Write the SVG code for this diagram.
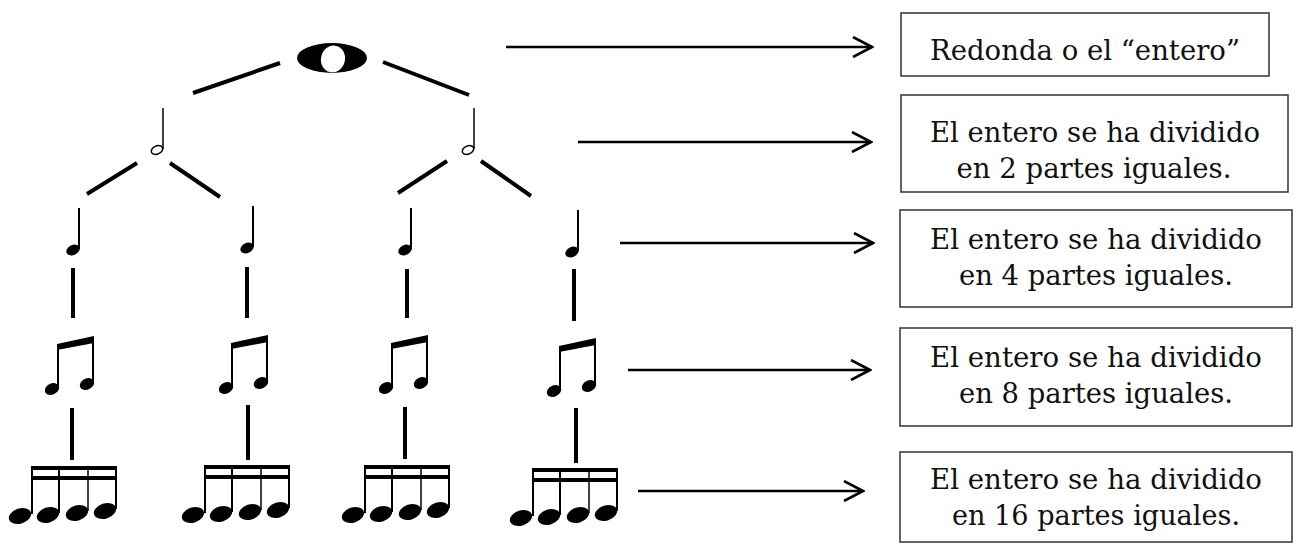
<svg xmlns="http://www.w3.org/2000/svg" width="1298" height="544" viewBox="0 0 1298 544">
<style>
.tree{stroke:#000;stroke-width:4;fill:none}
.arr{stroke:#000;stroke-width:2.6;fill:none}
.box{fill:#fff;stroke:#333;stroke-width:1.5}
.lbl{font-family:"DejaVu Serif","Liberation Serif",serif;font-size:27px;fill:#111;text-anchor:middle}
.stem{stroke:#000;stroke-width:2;fill:none}
.thin{stroke:#000;stroke-width:1.5;fill:none}
.head{fill:#000}
</style>
<defs>
<marker id="chev" viewBox="0 0 22 22" refX="20" refY="11" markerWidth="22" markerHeight="22" markerUnits="userSpaceOnUse" orient="auto">
<path d="M1,1 L20,11 L1,21" fill="none" stroke="#000" stroke-width="2.6"/>
</marker>
<g id="q"><ellipse cx="0" cy="0" rx="7" ry="5" transform="rotate(-25)" class="head"/><line x1="6" y1="-42" x2="6" y2="-1" class="stem"/></g>
<g id="h"><ellipse cx="0" cy="0" rx="6" ry="4" transform="rotate(-25)" fill="#fff" stroke="#000" stroke-width="1.5"/><line x1="6" y1="-42" x2="6" y2="-1" class="thin"/></g>
<g id="e">
<polygon points="-1,-46 36,-54 36,-47 -1,-40" fill="#000"/>
<line x1="0" y1="-44" x2="0" y2="-3" class="stem"/>
<line x1="35" y1="-52" x2="35" y2="-6" class="stem"/>
<ellipse cx="-6" cy="-1" rx="7.5" ry="5.5" transform="rotate(-25 -6 -1)" class="head"/>
<ellipse cx="29" cy="-6" rx="7.5" ry="5.5" transform="rotate(-25 29 -6)" class="head"/>
</g>
<g id="s">
<rect x="-1" y="0" width="86" height="4" fill="#000"/>
<rect x="-1" y="10" width="86" height="4" fill="#000"/>
<line x1="0" y1="0" x2="0" y2="48" class="stem"/>
<line x1="27" y1="0" x2="27" y2="47" class="stem"/>
<line x1="56" y1="0" x2="56" y2="45" class="thin"/>
<line x1="84" y1="0" x2="84" y2="43" class="stem"/>
<ellipse cx="-12" cy="50" rx="11.5" ry="7.5" transform="rotate(-18 -12 50)" class="head"/>
<ellipse cx="16" cy="49" rx="11.5" ry="7.5" transform="rotate(-18 16 49)" class="head"/>
<ellipse cx="45" cy="47" rx="11.5" ry="7.5" transform="rotate(-18 45 47)" class="head"/>
<ellipse cx="73" cy="45" rx="11.5" ry="7.5" transform="rotate(-18 73 45)" class="head"/>
</g>
</defs>
<rect width="1298" height="544" fill="#fff"/>

<g id="connectors">
<line class="tree" x1="193" y1="93" x2="280" y2="63"/>
<line class="tree" x1="383" y1="62" x2="469" y2="95"/>
<line class="tree" x1="87" y1="194" x2="137" y2="163"/>
<line class="tree" x1="170" y1="163" x2="220" y2="197"/>
<line class="tree" x1="398" y1="193" x2="447" y2="161"/>
<line class="tree" x1="481" y1="161" x2="531" y2="196"/>
<line class="tree" x1="73" y1="268" x2="73" y2="318"/>
<line class="tree" x1="247" y1="267" x2="247" y2="318"/>
<line class="tree" x1="407" y1="269" x2="407" y2="318"/>
<line class="tree" x1="574" y1="269" x2="574" y2="321"/>
<line class="tree" x1="72" y1="408" x2="72" y2="460"/>
<line class="tree" x1="248" y1="405" x2="248" y2="460"/>
<line class="tree" x1="405" y1="407" x2="405" y2="459"/>
<line class="tree" x1="576" y1="408" x2="576" y2="463"/>
<line class="arr" x1="506" y1="47" x2="872" y2="47" marker-end="url(#chev)"/>
<line class="arr" x1="578" y1="142" x2="871" y2="142" marker-end="url(#chev)"/>
<line class="arr" x1="620" y1="243" x2="873" y2="243" marker-end="url(#chev)"/>
<line class="arr" x1="628" y1="370" x2="870" y2="370" marker-end="url(#chev)"/>
<line class="arr" x1="638" y1="491" x2="863" y2="491" marker-end="url(#chev)"/>
</g>

<g id="whole-note">
<ellipse cx="332" cy="58" rx="35" ry="15" fill="#000"/>
<ellipse cx="333" cy="59" rx="12" ry="13.5" transform="rotate(15 333 59)" fill="#fff"/>
</g>

<g id="half-1"><use href="#h" x="157" y="150"/></g>
<g id="half-2"><use href="#h" x="468" y="150"/></g>

<g id="quarter-1"><use href="#q" x="73" y="250"/></g>
<g id="quarter-2"><use href="#q" x="247" y="248"/></g>
<g id="quarter-3"><use href="#q" x="405" y="250"/></g>
<g id="quarter-4"><use href="#q" x="572" y="252"/></g>

<g id="eighths-1"><use href="#e" x="58" y="390"/></g>
<g id="eighths-2"><use href="#e" x="232" y="389"/></g>
<g id="eighths-3"><use href="#e" x="392" y="389"/></g>
<g id="eighths-4"><use href="#e" x="560" y="392"/></g>

<g id="sixteenths-1"><use href="#s" x="32" y="466"/></g>
<g id="sixteenths-2"><use href="#s" x="205" y="465"/></g>
<g id="sixteenths-3"><use href="#s" x="365" y="465"/></g>
<g id="sixteenths-4"><use href="#s" x="533" y="468"/></g>

<g id="box-1">
<rect class="box" x="901" y="13" width="368" height="63"/>
<text class="lbl" x="1085" y="60" textLength="310" lengthAdjust="spacingAndGlyphs">Redonda o el “entero”</text>
</g>
<g id="box-2">
<rect class="box" x="901" y="95" width="387" height="97"/>
<text class="lbl" x="1095" y="142" textLength="330" lengthAdjust="spacingAndGlyphs">El entero se ha dividido</text>
<text class="lbl" x="1094" y="178" textLength="275" lengthAdjust="spacingAndGlyphs">en 2 partes iguales.</text>
</g>
<g id="box-3">
<rect class="box" x="900" y="210" width="392" height="97"/>
<text class="lbl" x="1096" y="249" textLength="332" lengthAdjust="spacingAndGlyphs">El entero se ha dividido</text>
<text class="lbl" x="1096" y="285" textLength="274" lengthAdjust="spacingAndGlyphs">en 4 partes iguales.</text>
</g>
<g id="box-4">
<rect class="box" x="900" y="328" width="392" height="98"/>
<text class="lbl" x="1096" y="367" textLength="332" lengthAdjust="spacingAndGlyphs">El entero se ha dividido</text>
<text class="lbl" x="1096" y="403" textLength="274" lengthAdjust="spacingAndGlyphs">en 8 partes iguales.</text>
</g>
<g id="box-5">
<rect class="box" x="900" y="452" width="392" height="90"/>
<text class="lbl" x="1096" y="489" textLength="332" lengthAdjust="spacingAndGlyphs">El entero se ha dividido</text>
<text class="lbl" x="1096" y="525" textLength="288" lengthAdjust="spacingAndGlyphs">en 16 partes iguales.</text>
</g>
</svg>
